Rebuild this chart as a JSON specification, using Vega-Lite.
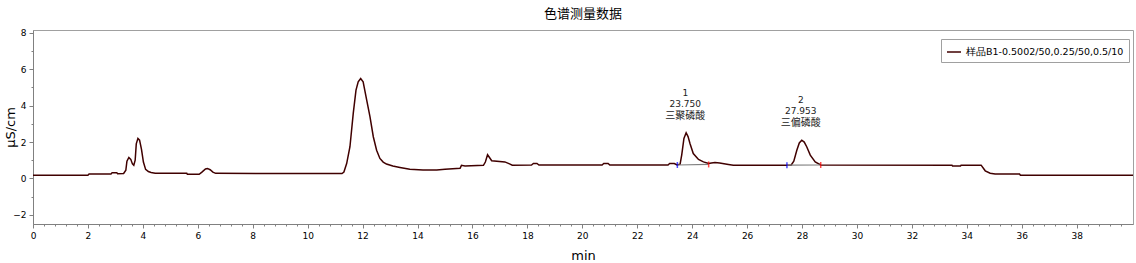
{
  "$schema": "https://vega.github.io/schema/vega-lite/v6.json",
  "width": 1100,
  "height": 194,
  "autosize": {"type": "none"},
  "padding": {"left": 33, "top": 30, "right": 3, "bottom": 39},
  "background": "white",
  "title": {"text": "色谱测量数据", "font": "Noto Sans CJK SC", "fontSize": 13, "fontWeight": "normal", "color": "#000000", "offset": 8, "anchor": "middle"},
  "config": {
    "view": {"stroke": "#a0a0a0", "strokeWidth": 1},
    "axis": {"grid": false, "domainColor": "#808080", "tickColor": "#808080", "labelFont": "DejaVu Sans", "labelFontSize": 9, "labelColor": "#000000", "titleFont": "DejaVu Sans", "titleFontSize": 13, "titleFontWeight": "normal", "titleColor": "#000000", "labelFlush": false, "labelBound": false, "labelOverlap": false}
  },
  "resolve": {"axis": {"x": "independent", "y": "independent"}},
  "datasets": {
    "trace": [
      {"t": 0, "v": 0.18}, {"t": 2.0, "v": 0.18}, {"t": 2.04, "v": 0.24}, {"t": 2.84, "v": 0.24},
      {"t": 2.88, "v": 0.32}, {"t": 3.05, "v": 0.32}, {"t": 3.08, "v": 0.26}, {"t": 3.3, "v": 0.27},
      {"t": 3.38, "v": 0.45}, {"t": 3.42, "v": 0.95}, {"t": 3.49, "v": 1.15}, {"t": 3.56, "v": 1.05},
      {"t": 3.62, "v": 0.8}, {"t": 3.67, "v": 0.72}, {"t": 3.72, "v": 1.0}, {"t": 3.76, "v": 1.9},
      {"t": 3.82, "v": 2.2}, {"t": 3.88, "v": 2.1}, {"t": 3.95, "v": 1.6}, {"t": 4.02, "v": 0.9},
      {"t": 4.1, "v": 0.5}, {"t": 4.2, "v": 0.38}, {"t": 4.3, "v": 0.33}, {"t": 4.45, "v": 0.29},
      {"t": 5.6, "v": 0.28}, {"t": 5.62, "v": 0.23}, {"t": 6.05, "v": 0.23}, {"t": 6.15, "v": 0.35},
      {"t": 6.28, "v": 0.52}, {"t": 6.35, "v": 0.55}, {"t": 6.45, "v": 0.48}, {"t": 6.55, "v": 0.35},
      {"t": 6.65, "v": 0.28}, {"t": 10.8, "v": 0.27}, {"t": 11.25, "v": 0.27}, {"t": 11.32, "v": 0.35},
      {"t": 11.42, "v": 0.82}, {"t": 11.54, "v": 1.74}, {"t": 11.66, "v": 3.57}, {"t": 11.76, "v": 4.85},
      {"t": 11.84, "v": 5.31}, {"t": 11.93, "v": 5.49}, {"t": 12.02, "v": 5.31}, {"t": 12.15, "v": 4.3},
      {"t": 12.27, "v": 3.38}, {"t": 12.39, "v": 2.29}, {"t": 12.51, "v": 1.55}, {"t": 12.63, "v": 1.1},
      {"t": 12.75, "v": 0.9}, {"t": 12.87, "v": 0.79}, {"t": 13.1, "v": 0.68}, {"t": 13.36, "v": 0.6},
      {"t": 13.72, "v": 0.5}, {"t": 14.2, "v": 0.46}, {"t": 14.7, "v": 0.46}, {"t": 15.0, "v": 0.5},
      {"t": 15.42, "v": 0.55}, {"t": 15.55, "v": 0.56}, {"t": 15.6, "v": 0.72}, {"t": 15.73, "v": 0.69},
      {"t": 16.4, "v": 0.72}, {"t": 16.47, "v": 0.9}, {"t": 16.55, "v": 1.3}, {"t": 16.62, "v": 1.15},
      {"t": 16.7, "v": 0.97}, {"t": 17.18, "v": 0.91}, {"t": 17.35, "v": 0.8}, {"t": 17.45, "v": 0.73},
      {"t": 18.15, "v": 0.74}, {"t": 18.22, "v": 0.82}, {"t": 18.35, "v": 0.82}, {"t": 18.42, "v": 0.74},
      {"t": 20.72, "v": 0.74}, {"t": 20.78, "v": 0.82}, {"t": 20.94, "v": 0.82}, {"t": 21.0, "v": 0.74},
      {"t": 23.12, "v": 0.74}, {"t": 23.18, "v": 0.82}, {"t": 23.35, "v": 0.82}, {"t": 23.45, "v": 0.74},
      {"t": 23.56, "v": 0.78}, {"t": 23.62, "v": 1.3}, {"t": 23.7, "v": 2.2}, {"t": 23.78, "v": 2.51},
      {"t": 23.85, "v": 2.3}, {"t": 23.92, "v": 1.92}, {"t": 24.04, "v": 1.37}, {"t": 24.23, "v": 1.04},
      {"t": 24.41, "v": 0.91}, {"t": 24.6, "v": 0.82}, {"t": 24.7, "v": 0.85}, {"t": 24.83, "v": 0.88},
      {"t": 25.0, "v": 0.85}, {"t": 25.32, "v": 0.77}, {"t": 25.5, "v": 0.73}, {"t": 27.6, "v": 0.73},
      {"t": 27.7, "v": 0.95}, {"t": 27.81, "v": 1.55}, {"t": 27.9, "v": 1.95}, {"t": 27.99, "v": 2.1},
      {"t": 28.08, "v": 2.0}, {"t": 28.17, "v": 1.74}, {"t": 28.3, "v": 1.28}, {"t": 28.48, "v": 0.91},
      {"t": 28.68, "v": 0.74}, {"t": 33.46, "v": 0.73}, {"t": 33.48, "v": 0.68}, {"t": 33.77, "v": 0.68},
      {"t": 33.79, "v": 0.73}, {"t": 34.52, "v": 0.73}, {"t": 34.67, "v": 0.42}, {"t": 34.85, "v": 0.29},
      {"t": 35.03, "v": 0.24}, {"t": 35.92, "v": 0.24}, {"t": 35.95, "v": 0.18}, {"t": 40.05, "v": 0.18}
    ],
    "peaks": [
      {"id": "1", "rt": "23.750", "name": "三聚磷酸", "t": 23.75, "v": 2.51, "t1": 23.46, "v1": 0.74, "t2": 24.6, "v2": 0.77},
      {"id": "2", "rt": "27.953", "name": "三偏磷酸", "t": 27.953, "v": 2.1, "t1": 27.45, "v1": 0.73, "t2": 28.68, "v2": 0.74}
    ]
  },
  "layer": [
    {
      "data": {"name": "trace"},
      "mark": {"type": "line", "strokeWidth": 1.5, "interpolate": "linear"},
      "encoding": {
        "x": {"field": "t", "type": "quantitative", "scale": {"domain": [0, 40.05], "nice": false, "zero": false},
          "axis": {"title": "min", "orient": "bottom", "titleX": 550, "titleY": 31, "titleBaseline": "middle", "titleAlign": "center", "labelPadding": 3, "tickSize": 4,
            "values": [0,2,4,6,8,10,12,14,16,18,20,22,24,26,28,30,32,34,36,38], "format": "d"}},
        "y": {"field": "v", "type": "quantitative", "scale": {"domain": [-2.5, 8.15], "nice": false, "zero": false},
          "axis": {"title": "μS/cm", "orient": "left", "titleX": -23, "titleY": 97, "titleAngle": -90, "titleBaseline": "middle", "titleAlign": "center", "labelPadding": 3, "tickSize": 4,
            "values": [-2,0,2,4,6,8], "format": "d"}},
        "color": {"datum": "样品B1-0.5002/50,0.25/50,0.5/10", "type": "nominal", "scale": {"range": ["#400000"]},
          "legend": {"title": null, "orient": "none", "legendX": 908, "legendY": 9, "symbolType": "stroke", "symbolSize": 196, "symbolStrokeWidth": 1.5,
            "labelFont": "DejaVu Sans", "labelFontSize": 9.5, "labelColor": "#000000", "strokeColor": "#a0a0a0", "fillColor": "white", "padding": 5}}
      }
    },
    {
      "data": {"name": "trace"},
      "mark": {"type": "line", "opacity": 0},
      "encoding": {
        "x": {"field": "t", "type": "quantitative",
          "axis": {"title": null, "orient": "bottom", "labels": false, "domain": false, "tickSize": 2,
            "values": [0.4,0.8,1.2,1.6,2.4,2.8,3.2,3.6,4.4,4.8,5.2,5.6,6.4,6.8,7.2,7.6,8.4,8.8,9.2,9.6,10.4,10.8,11.2,11.6,12.4,12.8,13.2,13.6,14.4,14.8,15.2,15.6,16.4,16.8,17.2,17.6,18.4,18.8,19.2,19.6,20.4,20.8,21.2,21.6,22.4,22.8,23.2,23.6,24.4,24.8,25.2,25.6,26.4,26.8,27.2,27.6,28.4,28.8,29.2,29.6,30.4,30.8,31.2,31.6,32.4,32.8,33.2,33.6,34.4,34.8,35.2,35.6,36.4,36.8,37.2,37.6,38.4,38.8,39.2,39.6]}},
        "y": {"field": "v", "type": "quantitative",
          "axis": {"title": null, "orient": "left", "labels": false, "domain": false, "tickSize": 2, "values": [-1,1,3,5,7]}}
      }
    },
    {
      "data": {"name": "peaks"},
      "mark": {"type": "rule", "color": "#808080", "strokeWidth": 1.2},
      "encoding": {
        "x": {"field": "t1", "type": "quantitative", "axis": null}, "x2": {"field": "t2"},
        "y": {"field": "v1", "type": "quantitative", "axis": null}, "y2": {"field": "v2"}
      }
    },
    {
      "data": {"name": "peaks"},
      "mark": {"type": "tick", "orient": "vertical", "color": "#0000ff", "size": 6, "thickness": 1.5},
      "encoding": {"x": {"field": "t1", "type": "quantitative", "axis": null}, "y": {"field": "v1", "type": "quantitative", "axis": null}}
    },
    {
      "data": {"name": "peaks"},
      "mark": {"type": "tick", "orient": "vertical", "color": "#ff0000", "size": 6, "thickness": 1.5},
      "encoding": {"x": {"field": "t2", "type": "quantitative", "axis": null}, "y": {"field": "v2", "type": "quantitative", "axis": null}}
    },
    {
      "data": {"name": "peaks"},
      "mark": {"type": "text", "font": "DejaVu Sans", "fontSize": 9, "color": "#222222", "baseline": "middle", "dy": -40},
      "encoding": {"x": {"field": "t", "type": "quantitative", "axis": null}, "y": {"field": "v", "type": "quantitative", "axis": null}, "text": {"field": "id"}}
    },
    {
      "data": {"name": "peaks"},
      "mark": {"type": "text", "font": "DejaVu Sans", "fontSize": 9, "color": "#222222", "baseline": "middle", "dy": -29},
      "encoding": {"x": {"field": "t", "type": "quantitative", "axis": null}, "y": {"field": "v", "type": "quantitative", "axis": null}, "text": {"field": "rt"}}
    },
    {
      "data": {"name": "peaks"},
      "mark": {"type": "text", "font": "Noto Sans CJK SC", "fontSize": 10, "color": "#222222", "baseline": "middle", "dy": -17},
      "encoding": {"x": {"field": "t", "type": "quantitative", "axis": null}, "y": {"field": "v", "type": "quantitative", "axis": null}, "text": {"field": "name"}}
    }
  ]
}
